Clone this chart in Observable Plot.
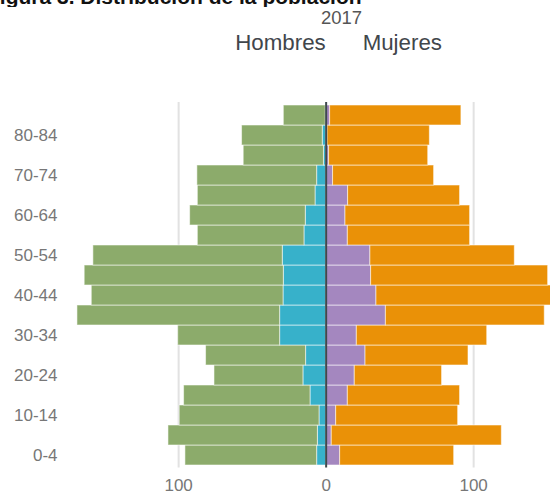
<!DOCTYPE html>
<html>
<head>
<meta charset="utf-8">
<script src="https://cdn.jsdelivr.net/npm/d3@7"></script>
<script src="https://cdn.jsdelivr.net/npm/@observablehq/plot@0.6"></script>
<style>
  html, body { margin: 0; padding: 0; background: #fff; overflow: hidden; }
  #wrap { position: relative; width: 550px; height: 493px; }
  #header { position: relative; width: 550px; height: 80px; font-family: "Liberation Sans", Arial, sans-serif; }
  #title { position: absolute; left: -13px; top: -14px; width: 378px; overflow: hidden; white-space: nowrap;
           font-size: 21px; line-height: 21px; font-weight: bold; color: #111; }
  #year { position: absolute; left: 291.5px; width: 100px; text-align: center; top: 9px; font-size: 18.5px; line-height: 18.5px; color: #555; }
  .leg { position: absolute; width: 120px; text-align: center; top: 32px; font-size: 22.3px; line-height: 22px; color: #41464b; }
  #chart svg { display: block; }
</style>
</head>
<body>
<div id="wrap">
  <div id="header">
    <div id="title">Figura 3. Distribución de la población</div>
    <div id="year">2017</div>
    <div class="leg" style="left:220.5px">Hombres</div>
    <div class="leg" style="left:342.3px">Mujeres</div>
  </div>
  <div id="chart"></div>
</div>
<script>
// Age groups (bottom to top)
const ages = ["0-4","5-9","10-14","15-19","20-24","25-29","30-34","35-39","40-44","45-49","50-54","55-59","60-64","65-69","70-74","75-79","80-84","85+"];
const ageTicks = ["0-4","10-14","20-24","30-34","40-44","50-54","60-64","70-74","80-84"];

// Hombres: inner (cyan) and outer (green) segments
const hombresCyan  = [6.1, 5.6, 4.5, 10.6, 15.4, 13.6, 31.2, 31.2, 28.9, 28.7, 29.4, 14.7, 13.8, 7.2, 6.1, 1.5, 2.3, 0.3];
const hombresGreen = [89.3, 101.3, 94.8, 85.7, 60.3, 67.8, 69.1, 137.4, 130, 135, 128.4, 72.3, 78.4, 79.8, 81.2, 54.4, 54.7, 28.4];

// Mujeres: inner (purple) and outer (orange) segments
const mujeresPurple = [9.5, 3.8, 6.8, 14.7, 19.4, 26.7, 20.8, 40.5, 34.1, 30.5, 30, 14.7, 13.1, 14.9, 4.7, 2, 1, 2.7];
const mujeresOrange = [77.3, 115.3, 82.7, 76.1, 59.2, 69.8, 88.4, 107.7, 121.9, 120, 97.9, 82.9, 84.5, 75.9, 68.5, 67.2, 69.3, 89];

const xTicks = [-100, 0, 100];

const groups = ["H1", "H2", "M1", "M2"];
const colors = ["#37b1ca", "#8cab6b", "#a487bf", "#ea9107"];

const rows = ages.flatMap((age, i) => [
  {age, group: "H1", value: -hombresCyan[i]},
  {age, group: "H2", value: -hombresGreen[i]},
  {age, group: "M1", value: mujeresPurple[i]},
  {age, group: "M2", value: mujeresOrange[i]}
]);

const chart = Plot.plot({
  width: 550,
  height: 413,
  marginTop: 22,
  marginBottom: 25.5,
  marginLeft: 65,
  marginRight: 0,
  style: {fontFamily: "'Liberation Sans', Arial, sans-serif", fontSize: "17px", color: "#777", background: "transparent", overflow: "visible"},
  x: {domain: [-176.7, 152.1], ticks: xTicks, tickFormat: d => Math.abs(d), tickSize: 0, tickPadding: 10.5, label: null},
  y: {domain: ages.slice().reverse(), padding: 0, ticks: ageTicks, tickFormat: d => ageTicks.includes(d) ? d : "", tickSize: 0, tickPadding: 8, label: null},
  color: {domain: groups, range: colors},
  marks: [
    Plot.ruleX([-100, 100], {stroke: "#e2e2e2", strokeWidth: 2}),
    Plot.barX(rows, {x: "value", y: "age", fill: "group", stroke: "white", strokeWidth: 1, strokeOpacity: 0.55, clip: true}),
    Plot.ruleX([0], {stroke: "#3e4a4c", strokeWidth: 2})
  ]
});
document.getElementById("chart").appendChild(chart);
</script>
</body>
</html>
